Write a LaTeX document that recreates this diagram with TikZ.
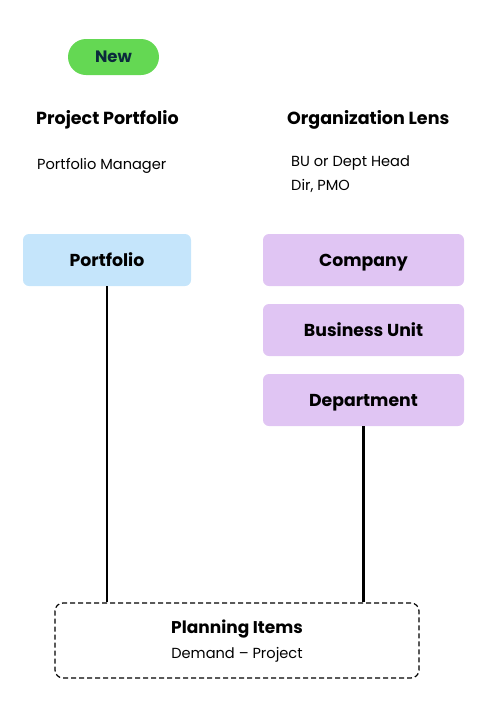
\documentclass[tikz,border=0pt]{standalone}
\usepackage{fontspec}
\setmainfont{Poppins}
\usetikzlibrary{positioning}
\definecolor{newgreen}{HTML}{64D853}
\definecolor{navy}{HTML}{0B2B3C}
\definecolor{lblue}{HTML}{C5E5FB}
\definecolor{lpurple}{HTML}{E0C5F3}
\tikzset{
  box/.style={rounded corners=6pt, minimum height=52pt, font=\fontsize{17.3}{20}\selectfont\bfseries, text=black, inner sep=0pt, text height=14pt, text depth=2pt},
  head/.style={font=\fontsize{17.5}{20}\selectfont\bfseries, anchor=west, inner sep=0pt, text height=14pt, text depth=2pt},
  sub/.style={font=\fontsize{14.6}{17}\selectfont, anchor=west, inner sep=0pt, text height=12pt, text depth=1.5pt},
  conn/.style={line width=2.2pt, black}
}
\begin{document}
\begin{tikzpicture}[x=1pt,y=-1pt]
\useasboundingbox (0,0) rectangle (499,702);
\node[fill=newgreen, rounded corners=18pt, minimum width=91pt, minimum height=36pt, inner sep=0pt, text=navy, font=\fontsize{16.5}{18}\selectfont\bfseries, text height=13pt, text depth=1.5pt] (new) at (113.5,57) {New};
\node[head] (pp) at (36,118) {Project Portfolio};
\node[head] (ol) at (287,118) {Organization Lens};
\node[sub] (pm) at (37,164) {Portfolio Manager};
\node[sub] (bu) at (291,161) {BU or Dept Head};
\node[sub] (dir) at (291,185) {Dir, PMO};
\node[box, fill=lblue, minimum width=168pt] (portfolio) at (107,260) {Portfolio};
\node[box, fill=lpurple, minimum width=201pt] (company) at (363.5,260) {Company};
\node[box, fill=lpurple, minimum width=201pt] (bunit) at (363.5,330) {Business Unit};
\node[box, fill=lpurple, minimum width=201pt] (dept) at (363.5,400) {Department};
\node[draw, line width=1.2pt, dash pattern=on 5pt off 3pt, rounded corners=8pt, minimum width=364pt, minimum height=75pt, inner sep=0pt] (plan) at (237,640.5) {};
\node[font=\fontsize{17}{20}\selectfont\bfseries, inner sep=0pt, text height=14pt, text depth=2pt] (pt) at (237,627) {Planning Items};
\node[font=\fontsize{14.6}{17}\selectfont, inner sep=0pt, text height=12pt, text depth=1.5pt] (pd) at (237,653) {Demand -- Project};
\draw[conn] (portfolio.south) -- (portfolio.south |- plan.north);
\draw[conn] (dept.south) -- (dept.south |- plan.north);
\end{tikzpicture}
\end{document}
